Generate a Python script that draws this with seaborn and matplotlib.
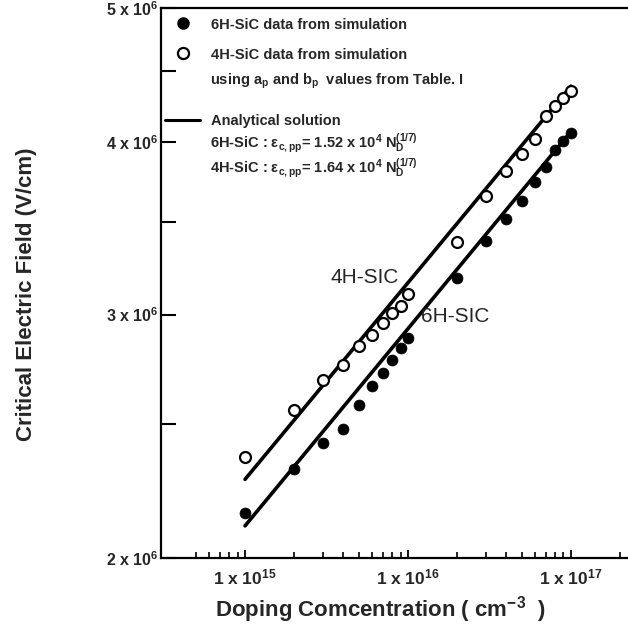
import matplotlib
matplotlib.use("Agg")
import numpy as np
import pandas as pd
import seaborn as sns
import matplotlib.pyplot as plt
from matplotlib.lines import Line2D
from matplotlib.ticker import NullFormatter

# ---- data ----
doping = [1e15, 2e15, 3e15, 4e15, 5e15, 6e15, 7e15, 8e15, 9e15,
          1e16, 2e16, 3e16, 4e16, 5e16, 6e16, 7e16, 8e16, 9e16, 1e17]
field_6h = [2.155e6, 2.319e6, 2.422e6, 2.480e6, 2.582e6, 2.662e6, 2.722e6,
            2.783e6, 2.838e6, 2.885e6, 3.189e6, 3.390e6, 3.516e6, 3.624e6,
            3.741e6, 3.838e6, 3.947e6, 4.006e6, 4.058e6]
field_4h = [2.366e6, 2.560e6, 2.692e6, 2.760e6, 2.845e6, 2.901e6, 2.958e6,
            3.008e6, 3.041e6, 3.106e6, 3.384e6, 3.654e6, 3.810e6, 3.918e6,
            4.017e6, 4.176e6, 4.246e6, 4.306e6, 4.354e6]
line_doping = [1e15, 1e17]
line_6h = [2.11e6, 4.07e6]
line_4h = [2.28e6, 4.39e6]

xtick_vals = [1e15, 1e16, 1e17]
xtick_labels = [r"1 x 10$^{15}$", r"1 x 10$^{16}$", r"1 x 10$^{17}$"]
ytick_vals = [2e6, 3e6, 4e6, 5e6]
ytick_labels = [r"2 x 10$^{6}$", r"3 x 10$^{6}$", r"4 x 10$^{6}$", r"5 x 10$^{6}$"]
yminor_vals = [2.5e6, 3.5e6, 4.5e6]
xlim = (3.05e14, 2.24e17)
ylim = (2e6, 5e6)

df6 = pd.DataFrame({"doping": doping, "field": field_6h})
df4 = pd.DataFrame({"doping": doping, "field": field_4h})
dl = pd.DataFrame({"doping": line_doping, "e6": line_6h, "e4": line_4h})

sns.set_theme(style="white")
plt.rcParams["font.family"] = ["Liberation Sans", "DejaVu Sans"]
plt.rcParams["mathtext.fontset"] = "custom"
plt.rcParams["mathtext.rm"] = "Liberation Sans:bold"
plt.rcParams["mathtext.it"] = "Liberation Sans:bold"
plt.rcParams["mathtext.bf"] = "Liberation Sans:bold"
plt.rcParams["mathtext.default"] = "regular"

fig = plt.figure(figsize=(6.28, 6.43), dpi=100)
L, R, B, T = 161 / 628, 628 / 628, 1 - 558 / 643, 1 - 8 / 643
ax = fig.add_axes([L, B, R - L, T - B])
ax.set_xscale("log")
ax.set_yscale("log")

sns.lineplot(data=dl, x="doping", y="e6", ax=ax, color="black", lw=2.6)
sns.lineplot(data=dl, x="doping", y="e4", ax=ax, color="black", lw=2.6)
sns.scatterplot(data=df6, x="doping", y="field", ax=ax, color="black",
                edgecolor="black", s=62, linewidth=0.5, zorder=3)
sns.scatterplot(data=df4, x="doping", y="field", ax=ax, color="white",
                edgecolor="black", s=62, linewidth=1.6, zorder=3)

ax.set_xlim(*xlim)
ax.set_ylim(*ylim)

ax.set_xticks(xtick_vals, labels=xtick_labels)
xminor = [k * 10.0 ** e for e in (14, 15, 16, 17) for k in range(2, 10)]
xminor = [v for v in xminor if 4.5e14 < v < xlim[1]]
ax.set_xticks(xminor, minor=True)
ax.set_yticks(ytick_vals, labels=ytick_labels)
ax.set_yticks(yminor_vals, minor=True)
ax.xaxis.set_minor_formatter(NullFormatter())
ax.yaxis.set_minor_formatter(NullFormatter())

ax.tick_params(axis="both", which="both", bottom=True, left=True,
               top=False, right=False, color="black")
ax.tick_params(axis="x", which="major", direction="in", length=6, width=1.3,
               pad=7, labelsize=12.5)
ax.tick_params(axis="x", which="minor", direction="in", length=4, width=1.2)
ax.tick_params(axis="y", which="both", direction="in", length=11, width=1.5,
               pad=2, labelsize=11.5)
for lab in ax.get_xticklabels() + ax.get_yticklabels():
    lab.set_fontweight("bold")

for side in ("left", "bottom", "top"):
    ax.spines[side].set_visible(True)
    ax.spines[side].set_color("black")
    ax.spines[side].set_linewidth(1.6)
ax.spines["right"].set_visible(False)

ax.set_xlabel(r"Doping Comcentration ( cm$^{-3}$  )", fontsize=16,
              fontweight="bold")
ax.set_ylabel("Critical Electric Field (V/cm)", fontsize=16, fontweight="bold")
ax.xaxis.set_label_coords(0.47, -0.065)
ax.yaxis.set_label_coords(-0.265, 0.48)

ax.text(5.4e15, 3.19e6, "4H-SIC", fontsize=15, ha="center", va="center")
ax.text(1.95e16, 2.99e6, "6H-SIC", fontsize=15, ha="center", va="center")

# ---- legend block ----
fs = 10.5
ha_ = dict(frameon=False, loc="upper left", borderpad=0, borderaxespad=0,
           handlelength=2.4, handletextpad=0.75,
           prop={"weight": "bold", "size": fs})
h1 = [Line2D([], [], marker="o", ls="none", color="black", markersize=8),
      Line2D([], [], marker="o", ls="none", mfc="white", mec="black",
             mew=1.6, markersize=8)]
l1 = ["6H-SiC data from simulation", "4H-SiC data from simulation"]
leg1 = ax.legend(h1, l1, bbox_to_anchor=(0.0086, 0.9827), labelspacing=1.1,
                 **ha_)
ax.add_artist(leg1)
h2 = [Line2D([], [], color="black", lw=2.2)]
l2 = ["Analytical solution"]
leg2 = ax.legend(h2, l2, bbox_to_anchor=(0.0086, 0.807), **ha_)

def row_y(py):
    return 1 - (py - 8) / 550

tx = (210 - 161) / 467
extra_rows = [(80, r"using a$_p$ and b$_p$  values from Table. I"),
              (143, r"6H-SiC : ε$_{c,pp}$= 1.52 x 10$^4$ N$_D^{(1/7)}$"),
              (168, r"4H-SiC : ε$_{c,pp}$= 1.64 x 10$^4$ N$_D^{(1/7)}$")]
for py, txt in extra_rows:
    ax.text(tx, row_y(py + 5), txt, transform=ax.transAxes, fontsize=fs,
            fontweight="bold", ha="left", va="baseline")

fig.savefig("out.png", dpi=100)
